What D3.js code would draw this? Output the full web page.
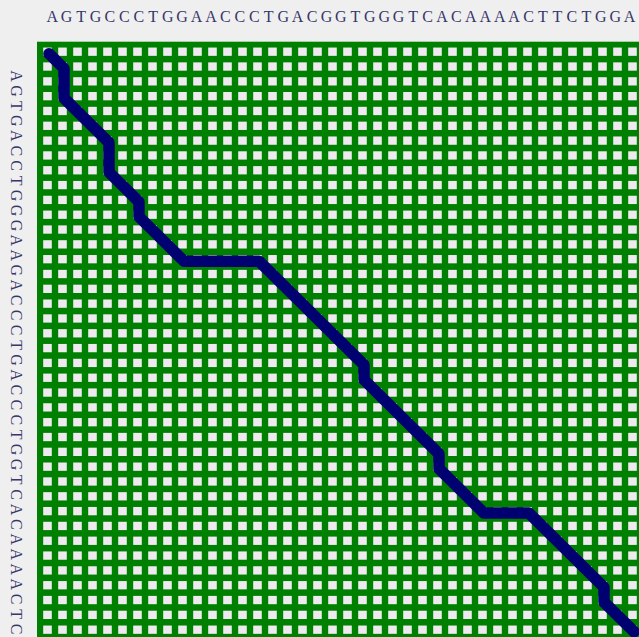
<!DOCTYPE html>
<html>
<head>
<meta charset="utf-8">
<script src="https://cdn.jsdelivr.net/npm/d3@7/dist/d3.min.js"></script>
<style>
  html, body { margin: 0; padding: 0; background: #efefef; overflow: hidden; }
  svg { display: block; }
</style>
</head>
<body>
<div id="chart"></div>
<script>
// ---- data ----
const topSequence  = "AGTGCCCTGGAACCCTGACGGTGGGTCACAAAACTTCTGGA".split("");
const leftSequence = "AGTGACCTGGGAAGACCCTGACCCTGGTCACAAAACTC".split("");
const gridColumns = d3.range(41);   // cells across (continues past the crop)
const gridRows    = d3.range(41);   // cells down (continues past the crop)
// alignment path corner cells (column index, row index)
const pathColumns = [0, 1, 1, 4, 4, 6, 6, 9, 14, 21, 21, 26, 26, 29, 32, 37, 37, 39];
const pathRows    = [0, 1, 3, 6, 8, 10, 11, 14, 14, 21, 22, 27, 28, 31, 31, 36, 37, 39];

// ---- layout ----
const W = 639, H = 637;
const svg = d3.select("#chart").append("svg").attr("width", W).attr("height", H);

const gridLeft = 37, gridTop = 41.7;
const colStep = 15.0, rowStep = 14.82;
const colPadIn = 0.427, colPadOut = 0.413, rowPadIn = 0.44, rowPadOut = 0.395;
const x = d3.scaleBand().domain(gridColumns)
  .range([gridLeft, gridLeft + colStep * (gridColumns.length - colPadIn + 2 * colPadOut)])
  .paddingInner(colPadIn).paddingOuter(colPadOut);
const y = d3.scaleBand().domain(gridRows)
  .range([gridTop, gridTop + rowStep * (gridRows.length - rowPadIn + 2 * rowPadOut)])
  .paddingInner(rowPadIn).paddingOuter(rowPadOut);

// green grid background
svg.append("rect")
  .attr("x", gridLeft).attr("y", gridTop)
  .attr("width", W).attr("height", H)
  .attr("fill", "#008000");

// cell holes
const cells = [];
gridRows.forEach(r => gridColumns.forEach(c => cells.push({c, r})));
svg.append("g").selectAll("rect").data(cells).join("rect")
  .attr("x", d => x(d.c)).attr("y", d => y(d.r))
  .attr("width", x.bandwidth()).attr("height", y.bandwidth())
  .attr("fill", "#efeaef");

// alignment path
const pts = pathColumns.map((c, i) => [x(c) + x.bandwidth() / 2 + 1.5, y(pathRows[i]) + y.bandwidth() / 2 + 2]);
svg.append("path")
  .attr("d", d3.line()(pts))
  .attr("fill", "none")
  .attr("stroke", "#000070")
  .attr("stroke-width", 11.5)
  .attr("stroke-linejoin", "round")
  .attr("stroke-linecap", "round");

// top sequence
const tx = d3.scalePoint().domain(d3.range(topSequence.length)).range([52.2, 629.6]);
svg.append("text")
  .attr("x", topSequence.map((_, i) => tx(i)).join(" "))
  .attr("y", 21.5)
  .attr("text-anchor", "middle")
  .attr("font-family", "'Liberation Serif', 'DejaVu Serif', serif")
  .attr("font-size", 16)
  .attr("fill", "#36366a")
  .text(topSequence.join(""));

// left sequence (rotated)
const ly = d3.scalePoint().domain(d3.range(leftSequence.length)).range([76, 629]);
svg.append("g")
  .attr("transform", "translate(10.5,0) rotate(90)")
  .append("text")
  .attr("x", leftSequence.map((_, i) => ly(i)).join(" "))
  .attr("y", 0)
  .attr("text-anchor", "middle")
  .attr("font-family", "'Liberation Serif', 'DejaVu Serif', serif")
  .attr("font-size", 16)
  .attr("fill", "#36366a")
  .text(leftSequence.join(""));
</script>
</body>
</html>
